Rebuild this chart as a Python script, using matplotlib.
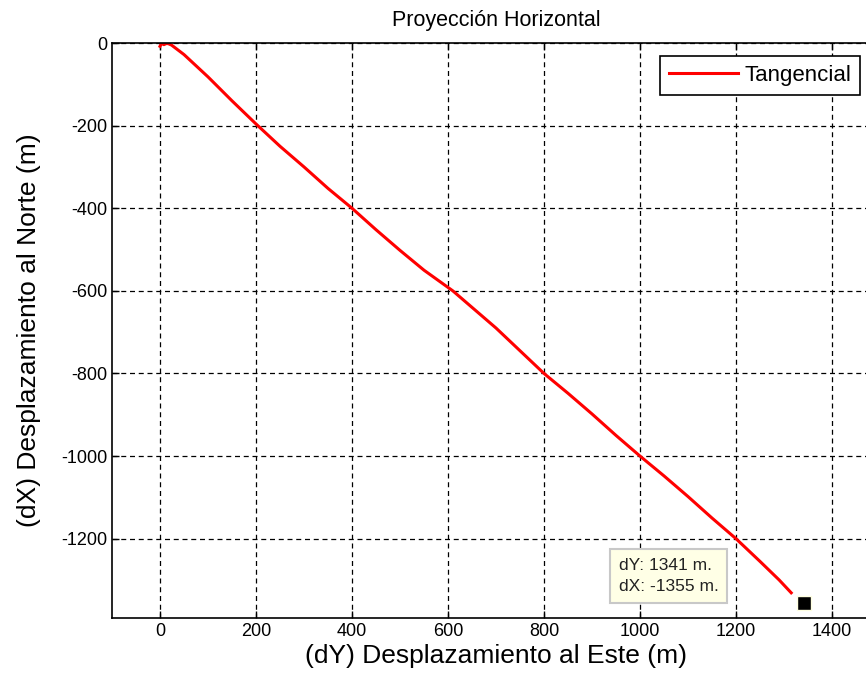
import matplotlib
matplotlib.use("Agg")
import matplotlib.pyplot as plt

plt.rcParams['font.family'] = ['Liberation Sans', 'DejaVu Sans']
plt.rcParams['axes.unicode_minus'] = False

# trayectoria horizontal (dY Este, dX Norte)
dy_este = [0, 3, 8, 14, 18, 24, 50, 100, 150, 200, 250, 300, 350, 400, 450, 500, 550,
           610, 660, 700, 750, 800, 850, 900, 950, 1000, 1050, 1100, 1150, 1200,
           1250, 1290, 1315]
dx_norte = [-8, -1, -4, -1, -2, -5, -28, -82, -140, -196, -250, -300, -352, -400,
            -452, -502, -550, -600, -650, -690, -745, -800, -848, -898, -950, -1000,
            -1048, -1098, -1150, -1200, -1255, -1300, -1331]

tip_y = 1341
tip_x = -1355

fig = plt.figure(figsize=(8.66, 6.88), dpi=100)
ax = fig.add_axes([112 / 866, 1 - 618 / 688, 768 / 866, 575 / 688])

ax.plot(dy_este, dx_norte, color='red', lw=2.2, label='Tangencial')
ax.plot([tip_y], [tip_x], 's', color='black', ms=10, mec='#ffffe1', mew=1)

ax.set_xlim(-100, 1500)
ax.set_ylim(-1392, 0)
ax.set_xticks(range(0, 1401, 200))
ax.set_yticks(range(-1200, 1, 200))
ax.grid(True, color='black', ls=(0, (4, 3)), lw=0.9)
ax.tick_params(direction='in', labelsize=13, length=5, width=1, top=True, right=True)
for s in ax.spines.values():
    s.set_linewidth(1.2)

ax.set_title('Proyección Horizontal', fontsize=15.5, pad=12)
ax.set_xlabel('(dY) Desplazamiento al Este (m)', fontsize=19, labelpad=3)
ax.set_ylabel('(dX) Desplazamiento al Norte (m)', fontsize=19, labelpad=14)

leg = ax.legend(loc='upper right', fontsize=16, fancybox=False, framealpha=1,
                edgecolor='black', handlelength=3.1, borderpad=0.4,
                handletextpad=0.3, bbox_to_anchor=(0.9885, 0.9965))
leg.get_frame().set_linewidth(1.2)

ax.text(956, -1290, 'dY: %d m.\ndX: %d m.' % (tip_y, tip_x), fontsize=12.5,
        ha='left', va='center', linespacing=1.5, color='#222222',
        bbox=dict(boxstyle='square,pad=0.5', fc='#ffffe6', ec='#c8c8c8', lw=1.5))

fig.savefig('out.png', dpi=100)
